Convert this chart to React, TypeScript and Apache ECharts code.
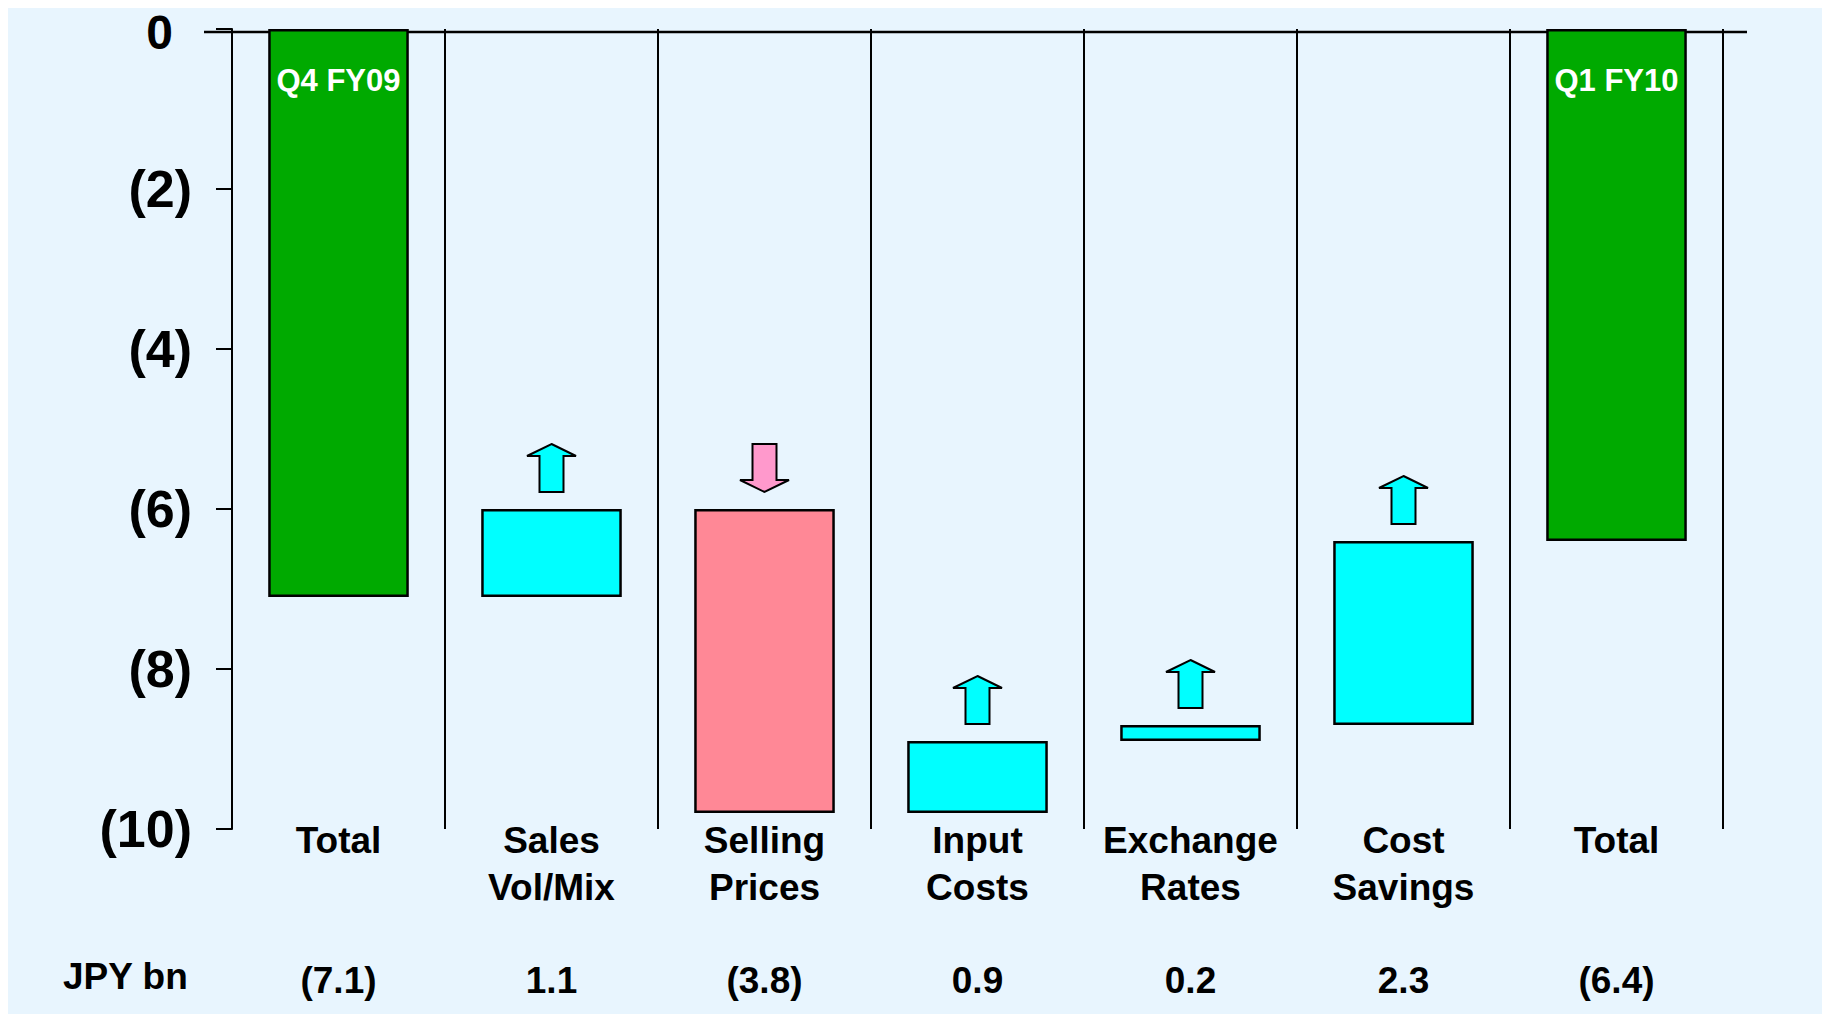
import React, { useEffect, useRef } from "react";
import * as echarts from "echarts";

// ---- data ----
const categories = ["Total", "Sales\nVol/Mix", "Selling\nPrices", "Input\nCosts", "Exchange\nRates", "Cost\nSavings", "Total"];
const isTotal = [true, false, false, false, false, false, true];
const values = [-7.1, 1.1, -3.8, 0.9, 0.2, 2.3, -6.4];
const totalNames = ["Q4 FY09", "", "", "", "", "", "Q1 FY10"];
const unitLabel = "JPY bn";
const yMin = -10;
const yMax = 0;
const yStep = 2;

const FONT = "'Liberation Sans', Arial, Helvetica, sans-serif";
const BG = "#E8F5FE";

const r1 = (x: number) => Math.round(x * 10) / 10;
const fmtVal = (v: number) => (v < 0 ? `(${Math.abs(v).toFixed(1)})` : v.toFixed(1));

export default function App() {
  const ref = useRef<HTMLDivElement>(null);

  useEffect(() => {
    if (!ref.current) return;
    const chart = echarts.init(ref.current, undefined, { renderer: "svg" });

    // waterfall layout
    const base: number[] = [];
    const span: number[] = [];
    const tops: number[] = [];
    let level = 0;
    values.forEach((v, i) => {
      if (isTotal[i]) {
        base.push(0);
        span.push(v);
        tops.push(0);
        level = v;
      } else {
        const from = level;
        const to = r1(level + v);
        const top = Math.max(from, to);
        const bottom = Math.min(from, to);
        base.push(r1(top));
        span.push(r1(bottom - top));
        tops.push(r1(top));
        level = to;
      }
    });

    const barColor = (i: number) =>
      isTotal[i] ? "#00AA00" : values[i] > 0 ? "#00FFFF" : "#FF8896";

    const option: any = {
      animation: false,
      backgroundColor: "transparent",
      grid: {
        left: 224,
        right: 107,
        top: 29,
        bottom: 185,
        containLabel: false,
        outerBoundsMode: "none",
      },
      xAxis: [
        {
          type: "category",
          data: categories,
          boundaryGap: true,
          axisLine: { show: false },
          axisTick: { show: false },
          splitLine: { show: true, interval: 0, lineStyle: { color: "#000", width: 2 } },
          axisLabel: {
            interval: 0,
            color: "#000",
            fontFamily: FONT,
            fontWeight: "bold",
            fontSize: 37,
            lineHeight: 47,
            verticalAlign: "top",
            margin: -12,
          },
        },
        {
          type: "category",
          data: values.map(fmtVal),
          position: "bottom",
          boundaryGap: true,
          axisLine: { show: false },
          axisTick: { show: false },
          splitLine: { show: false },
          axisLabel: {
            interval: 0,
            color: "#000",
            fontFamily: FONT,
            fontWeight: "bold",
            fontSize: 37,
            verticalAlign: "middle",
            margin: 151,
          },
        },
      ],
      yAxis: {
        type: "value",
        min: yMin,
        max: yMax,
        interval: yStep,
        axisLine: { show: true, lineStyle: { color: "#000", width: 2 } },
        axisTick: { show: true, length: 16, lineStyle: { color: "#000", width: 2 } },
        splitLine: { show: false },
        axisLabel: {
          color: "#000",
          fontFamily: FONT,
          fontWeight: "bold",
          fontSize: 52,
          lineHeight: 40,
          margin: 40,
          formatter: (v: number) => (v === 0 ? "{z|0}" : `(${Math.abs(v)})`),
          rich: {
            z: {
              color: "#000",
              fontFamily: FONT,
              fontWeight: "bold",
              fontSize: 48,
              lineHeight: 34,
              padding: [6, 19, 0, 0],
            },
          },
        },
      },
      graphic: [
        {
          type: "line",
          z: 0,
          shape: { x1: 196, y1: 32, x2: 1739, y2: 32 },
          style: { stroke: "#000", lineWidth: 2.5 },
        },
        {
          type: "text",
          left: 55,
          top: 958,
          style: {
            text: unitLabel,
            fill: "#000",
            font: `bold 37px ${FONT}`,
          },
        },
      ],
      series: [
        {
          type: "bar",
          stack: "wf",
          silent: true,
          barWidth: "66%",
          itemStyle: { color: "transparent", borderWidth: 0 },
          data: base,
          z: 2,
        },
        {
          type: "bar",
          stack: "wf",
          silent: true,
          barWidth: "66%",
          data: span.map((s, i) => ({
            value: s,
            itemStyle: { color: barColor(i), borderColor: "#000", borderWidth: 2.5 },
          })),
          z: 3,
        },
        {
          type: "custom",
          silent: true,
          z: 4,
          data: tops.map((t, i) => [i, t]),
          encode: { x: 0, y: 1 },
          renderItem: (params: any, api: any) => {
            const i = api.value(0);
            const top = api.value(1);
            const v = values[i];
            const p = api.coord([i, top]);
            if (isTotal[i]) {
              return {
                type: "text",
                x: p[0],
                y: p[1] + 51,
                style: {
                  text: totalNames[i],
                  fill: "#fff",
                  font: `bold 31px ${FONT}`,
                  align: "center",
                  verticalAlign: "middle",
                },
              };
            }
            const cx = p[0];
            const gap = 17;
            const H = 48;
            const hh = 12;
            const hw = 24.5;
            const sw = 12;
            let pts: number[][];
            if (v > 0) {
              const b = p[1] - gap;
              const t = b - H;
              pts = [
                [cx, t],
                [cx + hw, t + hh],
                [cx + sw, t + hh],
                [cx + sw, b],
                [cx - sw, b],
                [cx - sw, t + hh],
                [cx - hw, t + hh],
              ];
            } else {
              const tip = p[1] - gap;
              const t = tip - H;
              pts = [
                [cx - sw, t],
                [cx + sw, t],
                [cx + sw, tip - hh],
                [cx + hw, tip - hh],
                [cx, tip],
                [cx - hw, tip - hh],
                [cx - sw, tip - hh],
              ];
            }
            return {
              type: "polygon",
              shape: { points: pts },
              style: {
                fill: v > 0 ? "#00FFFF" : "#FF99CC",
                stroke: "#000",
                lineWidth: 2,
              },
            };
          },
        },
      ],
    };

    chart.setOption(option);
    return () => chart.dispose();
  }, []);

  return (
    <div
      ref={ref}
      style={{
        width: 1822,
        height: 1014,
        marginTop: -8,
        background: `linear-gradient(to bottom, #ffffff 0px, #ffffff 8px, ${BG} 8px, ${BG} 100%)`,
      }}
    />
  );
}
